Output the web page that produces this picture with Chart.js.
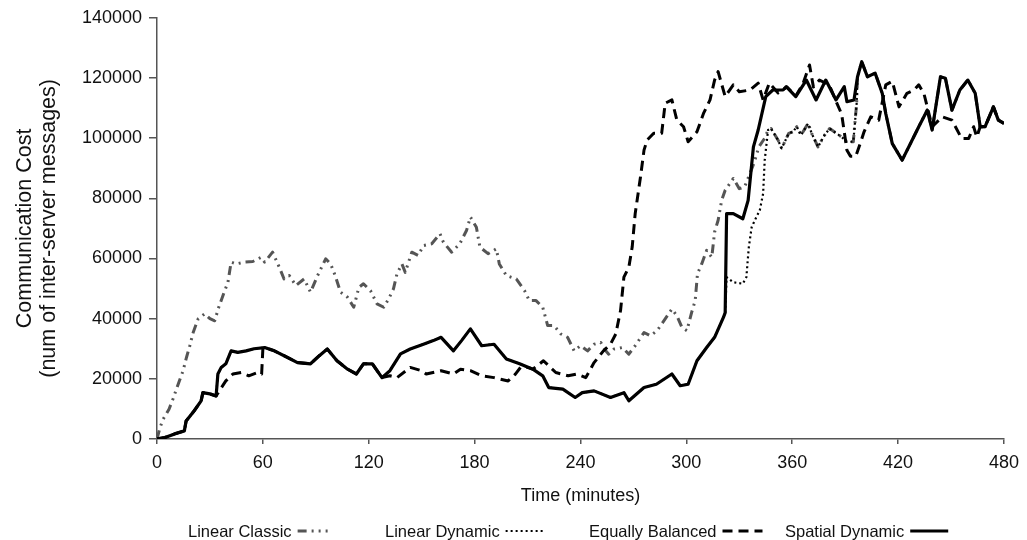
<!DOCTYPE html>
<html><head><meta charset="utf-8">
<script src="https://cdn.jsdelivr.net/npm/chart.js@4.4.1/dist/chart.umd.min.js"></script>
<style>html,body{margin:0;padding:0;background:#fff;}canvas{display:block;}</style>
</head><body>
<canvas id="c" width="1027" height="540"></canvas>
<script>
// ---- data (time in minutes, value in messages) ----
const seriesNames = ['Linear Classic', 'Linear Dynamic', 'Equally Balanced', 'Spatial Dynamic'];
const xTickValues = [0, 60, 120, 180, 240, 300, 360, 420, 480];
const yTickValues = [0, 20000, 40000, 60000, 80000, 100000, 120000, 140000];

const spatialDynamic = [[0,0],[4.5,500],[10,1700],[15.5,2700],[16.5,6000],[21,9300],[25,12700],[26,15400],[30,15000],[33.5,14300],[34.5,21600],[36.4,23800],[39,25000],[42,29300],[45.8,28800],[50.5,29300],[55,30000],[61,30400],[66.5,29300],[74,27100],[79.6,25400],[87,25000],[92,27700],[96.5,29900],[102,26000],[108,23200],[113,21600],[117,25000],[122,25000],[127.5,20400],[132,22700],[138,28300],[143.5,29900],[151,31500],[156.6,32700],[161,33800],[168,29300],[172.6,32700],[177.6,36600],[184,31000],[191,31500],[198,26600],[205.5,25000],[213,23200],[218.6,21000],[222,17100],[230,16600],[237,13800],[241,15400],[247.7,16000],[257,13800],[264.6,15400],[267.4,12700],[276,17100],[283,18200],[291.8,21600],[296.5,17700],[301,18200],[306,26000],[311.5,30400],[316,33800],[321,40400],[322,42000],[322.8,74900],[326.6,74900],[332,73200],[335,79300],[338,97100],[340.7,102700],[345,113800],[349,116000],[354.8,116000],[356.6,117100],[362,113800],[368,119300],[373.5,112700],[379,119300],[384.8,112700],[389.5,117100],[391,112100],[395,112700],[397,120400],[399.4,125400],[402.6,120400],[407,121600],[411,114900],[413,108200],[416.7,98200],[422.3,92700],[427,98200],[431.7,103800],[436.5,109300],[439.3,102700],[444,120400],[446.8,119900],[450.5,109300],[455,116000],[459.5,119300],[463.7,114900],[466.5,103800],[469.3,103800],[474,110400],[476.8,106000],[480,104900]];

// Equally Balanced: coincides with Spatial Dynamic up to t=33.5, 60-127.5 and after 466
const equallyBalancedOwn = [[36,16600],[39,19300],[43,21600],[47.7,22100],[52,21000],[57,22100],[59.3,21600],[60,30000]];
const equallyBalancedLate = [[132,21000],[136,20400],[143.5,23800],[150,22700],[152.6,21600],[161,22700],[168,21600],[172,23200],[177.6,22700],[184,21000],[191,20400],[199,19300],[203,21500],[206,23800],[210,23800],[213,23200],[219,26000],[226,22100],[233,21000],[238,21600],[243,20400],[247.7,25400],[253,29300],[257,31500],[260,34900],[262.7,42700],[264.6,53800],[267.4,57100],[269.3,63800],[271,74900],[274,87100],[276,96000],[277.7,99300],[281.5,101600],[286,101600],[288,111600],[291.8,112700],[294.6,106000],[298.4,103800],[301,98800],[306,102100],[309.7,108200],[313.4,112700],[316,119300],[318,122100],[322,113800],[326.6,117700],[330,115400],[336,116000],[340.7,118300],[343.5,112700],[347,118300],[352,115000],[357,117000],[362,114000],[366,118000],[369.8,124300],[372,117000],[375.4,119300],[381,117700],[385,112000],[388,108000],[391,96000],[393,94000],[396,94000],[399,99000],[400.7,102100],[404.5,107100],[409,106000],[413,117700],[416.7,118900],[420.5,110400],[425,114900],[429,116000],[431.7,117700],[434.6,114900],[439.3,103800],[445,107100],[450.5,106000],[456,99900],[460,99900],[462.8,103800],[464.6,100400]];

// Linear Dynamic: coincides with Spatial Dynamic up to t=321 and after 399
const linearDynamicOwn = [[322.8,53800],[326.6,52100],[332,51600],[334,53800],[335.4,63800],[337,70400],[339.7,73800],[341.6,76000],[343.5,81600],[344.4,92700],[346.3,102700],[348,103200],[352,99300],[354,96600],[358,101600],[360.4,102100],[362.6,103800],[365,101000],[369,104900],[371,101600],[374.6,97100],[378.3,101000],[381.2,103200],[385,101600],[388,100400],[391,98800],[394.6,98800],[396.5,111600],[397,120400]];

const linearClassicOwn = [[0,0],[1.7,3800],[3.5,6600],[6.8,9900],[9,13200],[12,18200],[14.8,22700],[16.7,27100],[18.6,31000],[20.5,35400],[23.3,39900],[27,41600],[30,40000],[32.7,39300],[35,43800],[37.7,48200],[40.2,52100],[42,58800],[44.9,58200],[49.6,58800],[54.3,59000],[59,60400],[61,58800],[65.5,62100],[69.3,57100],[72,53200],[75,54300],[78.7,51000],[83.4,53200],[87,48800],[91,54300],[95.6,59900],[98.4,58200],[101,54300],[104,48800],[108,47100],[111.5,43800],[114.4,50400],[117,51600],[121,49300],[124.7,44900],[128.5,43800],[131.3,46600],[134,49900],[136,54900],[138.8,58200],[140.7,55400],[144.4,62100],[148,61000],[151,64300],[155.7,64900],[160.4,68200],[162.3,65400],[167,62100],[171.6,64900],[175.4,69300],[177.6,73800],[181,70400],[183,63800],[187.6,61600],[192.3,63200],[194,58200],[198,54300],[203.6,53200],[208.3,49300],[211,46000],[214.8,46000],[218.6,43800],[221.4,37700],[225,37700],[228.9,34900],[232.7,33800],[236.4,29300],[240,31000],[244,29300],[247.7,31500],[251.5,32100],[254.3,29300],[256,28200],[259,29900],[263.7,30400],[267.4,28200],[271,31000],[276,35400],[279.6,34300],[283.4,36000],[288,39900],[291.8,43200],[294.6,41000],[297.5,37100],[300.3,36000],[303,42100],[305,46000],[306.3,54900],[308.7,58200],[311.5,62700],[314.4,60400],[316,68800],[318,72700],[320,79300],[322,82700],[326.6,86600],[330,83200],[333,83800],[336,88200],[338.5,92000],[341,97000],[344.4,100000]];

// ---- build full series from the readings ----
const pts = a => a.map(p => ({x: p[0], y: p[1]}));
const sdBefore = t => spatialDynamic.filter(p => p[0] <= t);
const sdAfter = t => spatialDynamic.filter(p => p[0] >= t);
const sdBetween = (a, b) => spatialDynamic.filter(p => p[0] >= a && p[0] <= b);

const sdData = pts(spatialDynamic);
const ebData = pts([].concat(sdBefore(33.5), equallyBalancedOwn, sdBetween(61, 127.5), equallyBalancedLate, sdAfter(466.5)));
const ldData = pts([].concat(sdBefore(322), linearDynamicOwn, sdAfter(399.4)));
const lcData = pts([].concat(linearClassicOwn, linearDynamicOwn.filter(p => p[0] >= 346.3), sdAfter(399.4)));

Chart.defaults.font.family = "'Liberation Sans', Arial, Helvetica, sans-serif";
Chart.defaults.color = '#111';

const legendPos = [{x: 188, len: 30}, {x: 385, len: 40}, {x: 589, len: 40}, {x: 785, len: 38}];
const legendPlugin = {
  id: 'sideLegend',
  afterDraw(chart) {
    const ctx = chart.ctx;
    ctx.save();
    ctx.font = "16.5px 'Liberation Sans', Arial, sans-serif";
    ctx.textBaseline = 'alphabetic';
    ctx.fillStyle = '#111';
    chart.data.datasets.forEach((ds, i) => {
      const p = legendPos[i];
      ctx.fillText(ds.label, p.x, 537);
      const w = ctx.measureText(ds.label).width;
      const x0 = p.x + w + 6;
      ctx.beginPath();
      ctx.strokeStyle = ds.borderColor;
      ctx.lineWidth = ds.borderWidth;
      ctx.setLineDash(ds.borderDash || []);
      ctx.moveTo(x0, 531);
      ctx.lineTo(x0 + p.len, 531);
      ctx.stroke();
    });
    ctx.restore();
  }
};

new Chart(document.getElementById('c'), {
  type: 'line',
  data: {
    datasets: [
      {label: seriesNames[0], data: lcData, borderColor: '#555555', borderWidth: 3, borderDash: [9, 5, 2, 5, 2, 5], order: 3},
      {label: seriesNames[1], data: ldData, borderColor: '#000000', borderWidth: 2.2, borderDash: [2, 3], order: 2},
      {label: seriesNames[2], data: ebData, borderColor: '#000000', borderWidth: 3, borderDash: [10, 6], order: 1},
      {label: seriesNames[3], data: sdData, borderColor: '#000000', borderWidth: 3.2, order: 0}
    ]
  },
  options: {
    responsive: false,
    animation: false,
    devicePixelRatio: 1,
    layout: {padding: {left: 0, right: 18, top: 17, bottom: 0}},
    elements: {point: {radius: 0}, line: {tension: 0, fill: false, borderJoinStyle: 'round'}},
    plugins: {legend: {display: false}, tooltip: {enabled: false}},
    scales: {
      x: {
        type: 'linear', min: 0, max: 480,
        afterBuildTicks: s => { s.ticks = xTickValues.map(v => ({value: v})); },
        afterFit: s => { s.height = 540 - 439; },
        grid: {display: true, drawOnChartArea: false, drawTicks: true, tickLength: 5, color: '#555', lineWidth: 1.5},
        border: {display: true, color: '#555', width: 1.5},
        ticks: {font: {size: 18}, color: '#111', padding: 8, maxRotation: 0, autoSkip: false, callback: v => String(v)},
        title: {display: true, text: 'Time (minutes)', font: {size: 18}, color: '#111', padding: {top: 0, bottom: 33}}
      },
      y: {
        type: 'linear', min: 0, max: 140000,
        afterBuildTicks: s => { s.ticks = yTickValues.map(v => ({value: v})); },
        afterFit: s => { s.width = 157; },
        grid: {display: true, drawOnChartArea: false, drawTicks: true, tickLength: 8, color: '#555', lineWidth: 1.5},
        border: {display: true, color: '#555', width: 1.5},
        ticks: {font: {size: 18}, color: '#111', padding: 7, autoSkip: false, callback: v => String(v)},
        title: {display: true, text: ['Communication Cost', '(num of inter-server messages)'], font: {size: 21.5, lineHeight: 1.12}, color: '#111', padding: {top: 13, bottom: 0}}
      }
    }
  },
  plugins: [legendPlugin]
});
</script>
</body></html>
